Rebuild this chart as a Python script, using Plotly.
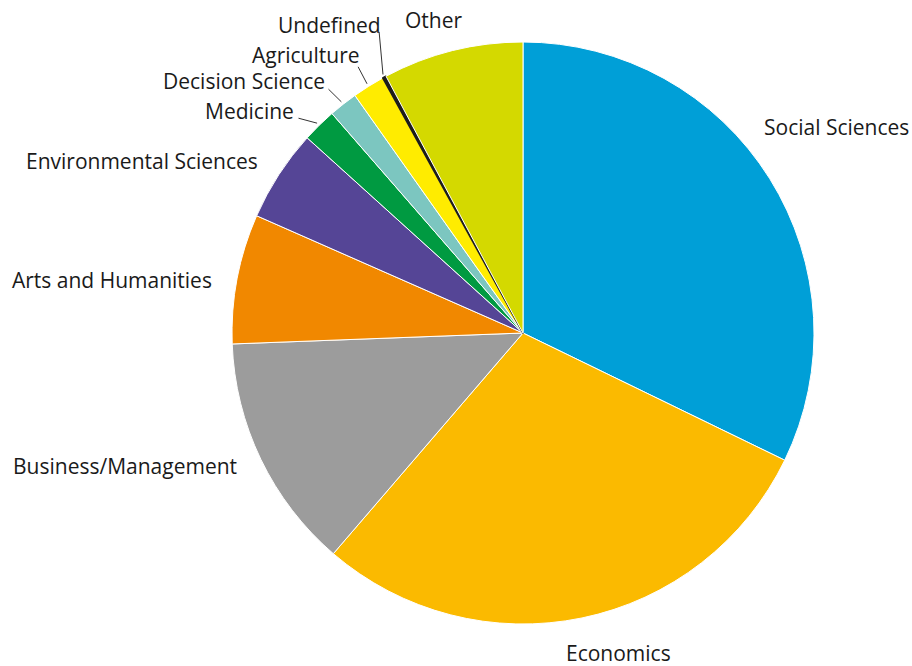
import math
import plotly.graph_objects as go

# ---- data ----
categories = ["Social Sciences", "Economics", "Business/Management", "Arts and Humanities",
              "Environmental Sciences", "Medicine", "Decision Science", "Agriculture",
              "Undefined", "Other"]
shares = [32.2, 29.1, 13.1, 7.2, 5.1, 1.9, 1.6, 1.8, 0.2, 7.8]

# ---- style ----
colors = ["#009FD7", "#FBBA00", "#9C9C9C", "#F18800", "#554596",
          "#009A41", "#7CC6C0", "#FFEC00", "#1D1D1B", "#D4D900"]
line_colors = ["white"] * 8 + ["#1D1D1B", "white"]
line_widths = [1] * 8 + [1.6, 1]

W, H = 912, 666
ML, MR, MT, MB = 232, 98, 42, 42
PW = W - ML - MR          # 582
PH = H - MT - MB          # 582
CX, CY = ML + PW / 2, MT + PH / 2
R = min(PW, PH) / 2

# label placement: (offset from rim point at slice mid-angle in px, anchor, leader tail offset or None)
label_style = {
    "Social Sciences": ((141, -52), "right", None),
    "Economics": ((36, 35), "center", None),
    "Business/Management": ((-22, 7), "right", None),
    "Arts and Humanities": ((-23.5, 1.5), "right", None),
    "Environmental Sciences": ((-19, -14), "right", None),
    "Medicine": ((-23, -14), "right", (-20.7, -7.1)),
    "Decision Science": ((-16, -23), "right", (-14.7, -15)),
    "Agriculture": ((-6.5, -31.5), "right", (-10.5, -19.5)),
    "Undefined": ((-1.6, -52), "right", (-5.3, -45.3)),
    "Other": ((-19, -31), "center", None),
}

def to_paper(px, py):
    return (px - ML) / PW, 1 - (py - MT) / PH

total = sum(shares)
annotations, shapes = [], []
cum = 0.0
for cat, v in zip(categories, shares):
    mid = (cum + v / 2) / total * 2 * math.pi
    cum += v
    sx, sy = math.sin(mid), math.cos(mid)
    rx, ry = CX + R * sx, CY - R * sy
    (dx, dy), anchor, tail = label_style[cat]
    tx, ty = to_paper(rx + dx, ry + dy)
    annotations.append(dict(x=tx, y=ty, xref="paper", yref="paper", text=cat,
                            showarrow=False, xanchor=anchor, yanchor="middle",
                            font=dict(family="Open Sans", size=21, color="#1A1A1A")))
    if tail is not None:
        hx, hy = to_paper(CX + (R + 3) * sx, CY - (R + 3) * sy)
        ex, ey = to_paper(rx + tail[0], ry + tail[1])
        shapes.append(dict(type="line", xref="paper", yref="paper", x0=hx, y0=hy, x1=ex, y1=ey,
                           line=dict(color="#333333", width=1)))

fig = go.Figure(go.Pie(
    labels=categories, values=shares, sort=False, direction="clockwise", rotation=0,
    marker=dict(colors=colors, line=dict(color=line_colors, width=line_widths)),
    textinfo="none", hoverinfo="label+percent", showlegend=False,
    domain=dict(x=[0, 1], y=[0, 1]),
))
fig.update_layout(
    width=W, height=H, margin=dict(l=ML, r=MR, t=MT, b=MB, autoexpand=False),
    paper_bgcolor="white", plot_bgcolor="white",
    annotations=annotations, shapes=shapes,
)
fig.write_html("out.html", config={"displayModeBar": False},
               post_script="document.body.style.margin='0';document.body.style.overflow='hidden';")
